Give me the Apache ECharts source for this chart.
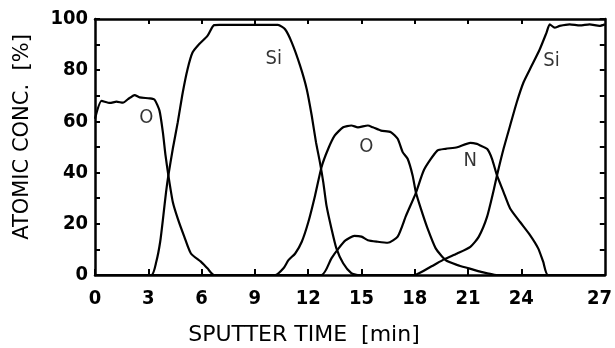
<!DOCTYPE html>
<html>
<head>
<meta charset="utf-8">
<script src="https://cdn.jsdelivr.net/npm/echarts@6/dist/echarts.min.js"></script>
<style>html,body{margin:0;padding:0;background:#fff}#c{width:615px;height:348px}</style>
</head>
<body>
<div id="c"></div>
<script>
// ---- data (x in axis units; the axis end is labelled 27) ----
var oTime = [0, 0.37, 0.84, 1.21, 1.58, 1.86, 2.23, 2.51, 3.07, 3.35, 3.63, 3.82, 3.97, 4.13, 4.38, 4.66, 5.03, 5.4, 5.96, 6.33, 6.7, 10.15, 10.61, 10.89, 11.27, 11.64, 12.01, 12.39, 12.75, 13.13, 13.5, 13.97, 14.43, 14.8, 15.36, 15.64, 16.1, 16.66, 17.04, 17.32, 17.6, 17.88, 18.06, 18.34, 18.72, 19.18, 19.74, 20.39, 21.04, 21.69, 22.6, 28.7];
var oConc = [61, 68, 67.2, 67.7, 67.3, 68.7, 70.3, 69.4, 69, 68.5, 64.2, 55.8, 46.7, 38.9, 28.5, 22, 14.9, 8.4, 5.2, 2.6, 0, 0, 2.6, 5.8, 8.4, 13, 20.7, 31.1, 42.1, 49.3, 54.5, 57.7, 58.4, 57.7, 58.4, 57.7, 56.4, 55.8, 53.2, 48, 45.4, 38.9, 32.4, 26, 18.2, 10.4, 5.8, 3.9, 2.6, 1.3, 0, 0];

var siTime = [0, 3.17, 3.45, 3.67, 3.85, 4.0, 4.13, 4.38, 4.66, 4.94, 5.21, 5.49, 5.87, 6.33, 6.7, 7.0, 8, 9, 10.3, 10.7, 11.08, 11.55, 11.92, 12.2, 12.44, 12.66, 12.85, 13.03, 13.31, 13.59, 13.97, 14.43, 14.8, 17.97, 18.9, 19.65, 20.39, 21.13, 21.6, 22.07, 22.44, 22.63, 23.0, 23.37, 23.74, 24.12, 24.58, 25.04, 25.42, 25.6, 25.88, 26.16, 26.72, 27.3, 27.84, 28.4, 28.7];
var siConc = [0, 0, 5.2, 13, 23.3, 32.4, 38.9, 49.3, 59.7, 71.3, 80.4, 86.9, 90.2, 93.4, 97.6, 97.7, 97.7, 97.7, 97.7, 96, 90.8, 81.7, 72.6, 62.3, 51.9, 44.1, 36.3, 27.2, 18.2, 10.4, 4.6, 0.7, 0, 0, 3.2, 6.1, 8.4, 11, 14.9, 22.7, 33, 38.9, 49.3, 58.4, 67.4, 75.2, 81.7, 88.2, 94.7, 97.9, 96.6, 97.3, 97.9, 97.5, 97.9, 97.3, 97.9];

var nTime = [0, 12.75, 13.31, 13.69, 14.1, 14.6, 15.0, 15.36, 15.92, 16.48, 17.04, 17.5, 18.06, 18.53, 19.27, 19.74, 20.39, 21.13, 21.5, 21.69, 22.07, 22.35, 22.63, 23.0, 23.37, 23.93, 24.49, 24.95, 25.23, 25.51, 28.7];
var nConc = [0, 0, 6.5, 10.2, 13.5, 15.3, 15, 13.6, 13, 12.6, 15, 23, 32, 41.2, 48.6, 49.3, 49.9, 51.6, 51.2, 50.6, 49.3, 45.4, 38.9, 32.4, 26, 20.7, 15.6, 10.4, 5.2, 0, 0];

var curveNames = ['O', 'Si', 'O', 'N', 'Si'];
var curveNameX = [2.89, 10.06, 15.27, 21.13, 25.7];
var curveNameY = [61.6, 84.3, 49.9, 44.7, 83.7];

var xTickValues = [0, 3, 6, 9, 12, 15, 18, 21, 24];
var xLabelValues = [0, 3, 6, 9, 12, 15, 18, 21, 24, 28.4];
var xTickLabels = ['0', '3', '6', '9', '12', '15', '18', '21', '24', '27'];
var xMax = 28.7;
var yTickLabels = ['0', '20', '40', '60', '80', '100'];

function pairs(xs, ys) { return xs.map(function (x, i) { return [x, ys[i]]; }); }

var chart = echarts.init(document.getElementById('c'));
var axisLine = { show: true, onZero: false, lineStyle: { color: '#000', width: 2.5 } };
var tickStyle = { color: '#000', width: 2 };
var lblFont = { color: '#000', fontFamily: 'DejaVu Sans Condensed', fontWeight: 'bold', fontSize: 20 };

var option = {
  animation: false,
  backgroundColor: '#fff',
  grid: { left: 95, right: 6, top: 19, bottom: 73, show: false },
  xAxis: [{
    type: 'value', min: 0, max: xMax, position: 'bottom',
    axisLine: axisLine,
    splitLine: { show: false },
    axisTick: { show: true, inside: true, length: 6, lineStyle: tickStyle, customValues: xTickValues },
    axisLabel: Object.assign({ margin: 14, customValues: xLabelValues,
      formatter: function (v) { var i = xLabelValues.indexOf(v); return i >= 0 ? xTickLabels[i] : ''; } }, lblFont)
  }, {
    type: 'value', min: 0, max: xMax, position: 'top',
    axisLine: axisLine,
    splitLine: { show: false },
    axisTick: { show: true, inside: true, length: 5, lineStyle: tickStyle, customValues: xTickValues.slice(1) },
    axisLabel: { show: false }
  }],
  yAxis: [{
    type: 'value', min: 0, max: 100, interval: 10, position: 'left',
    axisLine: axisLine,
    splitLine: { show: false },
    axisTick: { show: true, inside: true, length: 5, lineStyle: tickStyle },
    axisLabel: Object.assign({ margin: 7,
      formatter: function (v) { return (v % 20 === 0) ? yTickLabels[v / 20] : ''; } }, lblFont)
  }, {
    type: 'value', min: 0, max: 100, interval: 10, position: 'right',
    axisLine: axisLine,
    splitLine: { show: false },
    axisTick: { show: true, inside: true, length: 5, lineStyle: tickStyle },
    axisLabel: { show: false }
  }],
  series: [
    { type: 'line', name: 'O', data: pairs(oTime, oConc), showSymbol: false, smooth: 0.2,
      lineStyle: { color: '#000', width: 2.2 }, z: 3 },
    { type: 'line', name: 'Si', data: pairs(siTime, siConc), showSymbol: false, smooth: 0.2,
      lineStyle: { color: '#000', width: 2.2 }, z: 3 },
    { type: 'line', name: 'N', data: pairs(nTime, nConc), showSymbol: false, smooth: 0.2,
      lineStyle: { color: '#000', width: 2.2 }, z: 3 },
    { type: 'scatter', symbolSize: 0, silent: true,
      data: curveNames.map(function (n, i) { return { value: [curveNameX[i], curveNameY[i]], name: n }; }),
      label: { show: true, position: 'inside', formatter: '{b}', color: '#000',
        fontFamily: 'DejaVu Sans Condensed', fontSize: 20 } }
  ],
  graphic: [
    { type: 'text', x: 304, y: 335, style: { text: 'SPUTTER TIME  [min]', fill: '#000',
        font: '22px "DejaVu Sans"', textAlign: 'center', textVerticalAlign: 'middle' } },
    { type: 'text', x: 23, y: 137, rotation: Math.PI / 2, style: { text: 'ATOMIC CONC.  [%]', fill: '#000',
        font: '21px "DejaVu Sans"', textAlign: 'center', textVerticalAlign: 'middle' } }
  ]
};
chart.setOption(option);
</script>
</body>
</html>
